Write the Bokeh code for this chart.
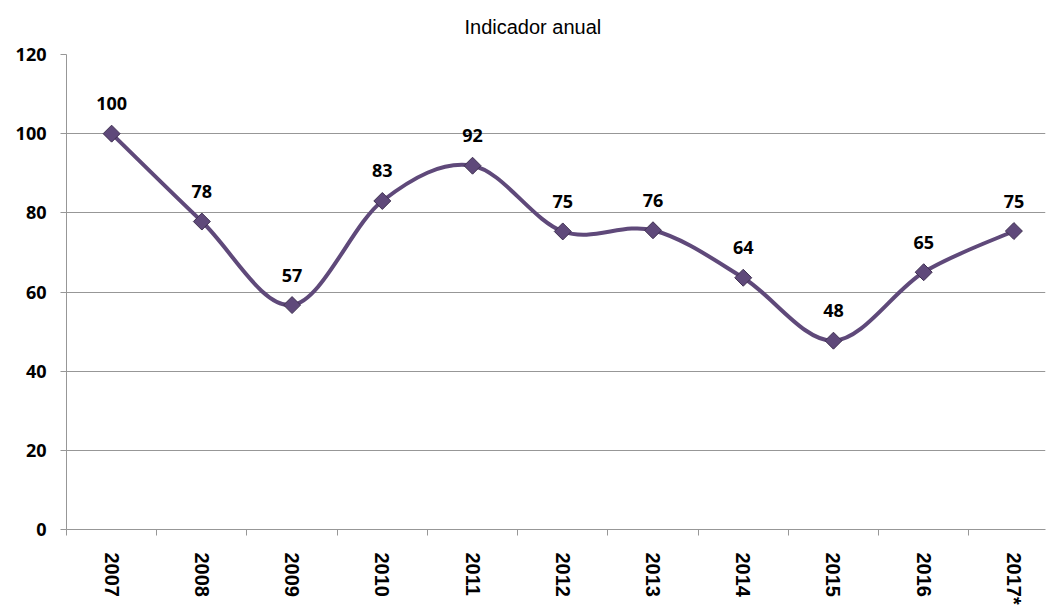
import numpy as np
from bokeh.plotting import figure
from bokeh.models import FixedTicker, Title, ColumnDataSource
from bokeh.core.properties import value
from bokeh.embed import file_html
from bokeh.resources import INLINE

years = ["2007", "2008", "2009", "2010", "2011", "2012", "2013", "2014", "2015", "2016", "2017*"]
values = [100, 77.8, 56.7, 83.0, 91.9, 75.3, 75.6, 63.6, 47.7, 65.0, 75.4]
labels = ["100", "78", "57", "83", "92", "75", "76", "64", "48", "65", "75"]
y_ticks = [0, 20, 40, 60, 80, 100, 120]
title_text = "Indicador anual"

LINE = "#5F497A"
GRID = "#979797"

xs = list(range(len(years)))

p = figure(width=1047, height=607, output_backend="svg", toolbar_location=None,
           x_range=(-0.5, 10.35), y_range=(0, 120),
           min_border_left=66, min_border_right=2, min_border_top=53, min_border_bottom=78)
p.outline_line_color = None
p.background_fill_color = "white"
p.border_fill_color = "white"

p.title = Title(text=title_text, align="left", offset=398, vertical_align="top",
                text_font="Liberation Sans", text_font_style="normal",
                text_font_size="20px", text_color="#000000", standoff=30)

# x axis
p.xaxis.ticker = FixedTicker(ticks=xs, minor_ticks=[i - 0.5 for i in range(len(years))])
p.xaxis.major_label_overrides = {i: y for i, y in enumerate(years)}
p.xaxis.major_label_orientation = "vertical"
p.xaxis.major_tick_line_color = None
p.xaxis.minor_tick_out = 6
p.xaxis.minor_tick_in = 0
p.xaxis.minor_tick_line_color = GRID
p.xaxis.axis_line_color = GRID
p.xaxis.major_label_text_font = "Liberation Sans"
p.xaxis.major_label_text_font_style = "bold"
p.xaxis.major_label_text_font_size = "20px"
p.xaxis.major_label_text_color = "#000000"
p.xaxis.major_label_standoff = 17
p.xgrid.grid_line_color = None

# y axis
p.yaxis.ticker = FixedTicker(ticks=y_ticks, minor_ticks=[])
p.yaxis.major_tick_out = 6
p.yaxis.major_tick_in = 0
p.yaxis.major_tick_line_color = GRID
p.yaxis.axis_line_color = GRID
p.yaxis.major_label_text_font = "Open Sans"
p.yaxis.major_label_text_font_style = "bold"
p.yaxis.major_label_text_font_size = "18px"
p.yaxis.major_label_text_color = "#000000"
p.yaxis.major_label_standoff = 14
p.ygrid.grid_line_color = GRID
p.ygrid.grid_line_width = 1

# smoothed line (Catmull-Rom style Bezier segments through the data points)
xa = np.array(xs, dtype=float)
ya = np.array(values, dtype=float)
n = len(xa)
x0, y0, x1, y1, cx0, cy0, cx1, cy1 = [], [], [], [], [], [], [], []
for i in range(n - 1):
    pm = max(i - 1, 0)
    pp = min(i + 2, n - 1)
    x0.append(xa[i]); y0.append(ya[i])
    x1.append(xa[i + 1]); y1.append(ya[i + 1])
    cx0.append(xa[i] + (xa[i + 1] - xa[pm]) / 6.0)
    cy0.append(ya[i] + (ya[i + 1] - ya[pm]) / 6.0)
    cx1.append(xa[i + 1] - (xa[pp] - xa[i]) / 6.0)
    cy1.append(ya[i + 1] - (ya[pp] - ya[i]) / 6.0)
p.bezier(x0=x0, y0=y0, x1=x1, y1=y1, cx0=cx0, cy0=cy0, cx1=cx1, cy1=cy1,
         line_color=LINE, line_width=4)

src = ColumnDataSource(dict(x=xs, y=values, lab=labels))
p.scatter("x", "y", source=src, marker="square", angle=np.pi / 4, size=12,
          fill_color=LINE, line_color="#3F3151", line_width=1)

p.text("x", "y", text="lab", source=src, y_offset=-30, text_align="center",
       text_baseline="middle", text_font=value("Open Sans"), text_font_style="bold",
       text_font_size="18px", text_color="#000000")

open("out.html", "w").write(file_html(p, INLINE))
